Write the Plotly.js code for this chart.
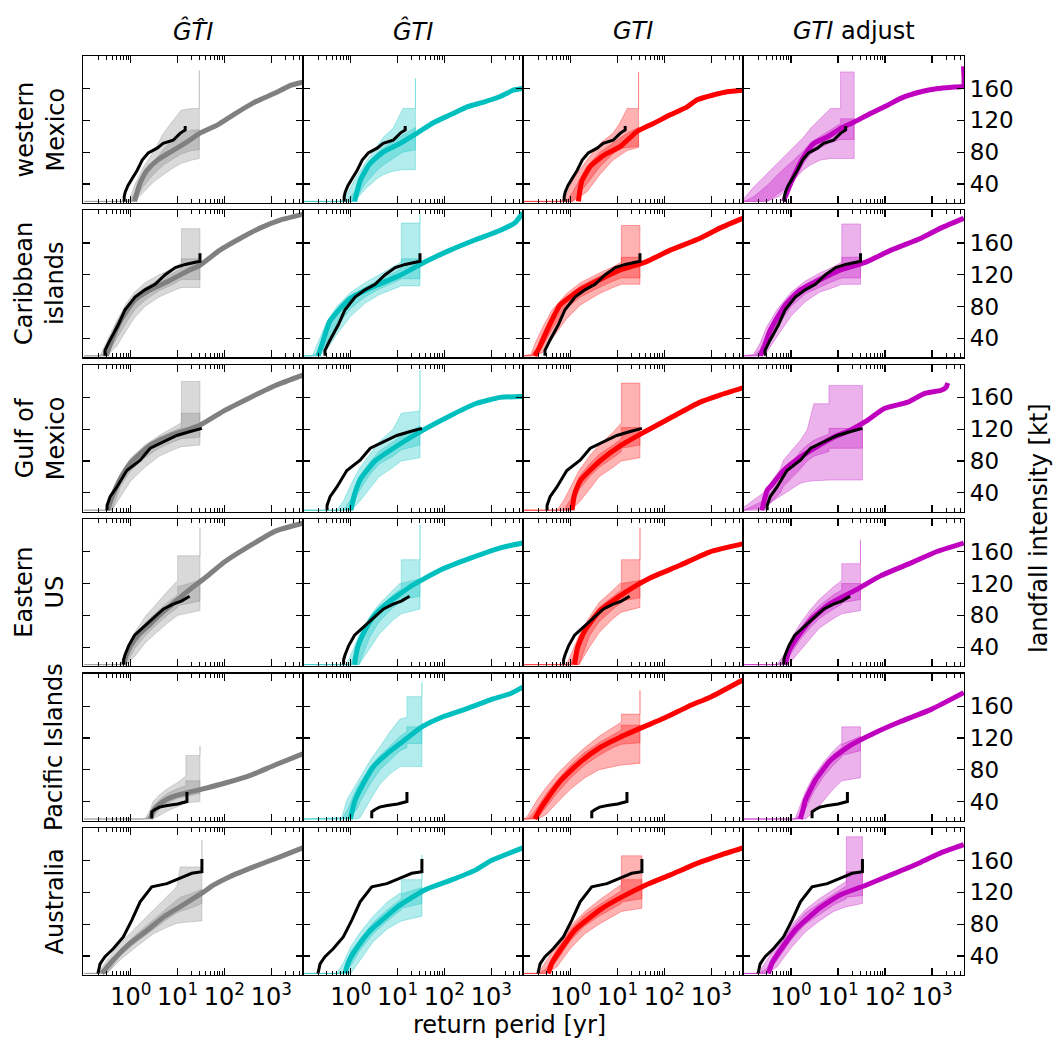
<!DOCTYPE html>
<html>
<head>
<meta charset="utf-8">
<script src="https://cdn.plot.ly/plotly-3.0.1.min.js"></script>
<style>
  html, body { margin: 0; padding: 0; background: #ffffff; }
  #chart { width: 1053px; height: 1042px; }
</style>
</head>
<body>
<div id="chart"></div>
<script>
// ---------------------------------------------------------------------------
// Return-period curves of landfall intensity, six regions x four model variants.
// For every panel: model curve (x = return period [yr], y = intensity [kt]),
// outer and inner uncertainty bands on shared knots, and the observed record.
// ---------------------------------------------------------------------------

const regionLabels = ['western<br>Mexico', 'Caribbean<br>islands', 'Gulf of<br>Mexico', 'Eastern<br>US', 'Pacific Islands', 'Australia'];
const columnTitles = ['<i>\u011CT\u0302I</i>', '<i>\u011CTI</i>', '<i>GTI</i>', '<i>GTI</i> adjust'];
const xTickVals = [1, 10, 100, 1000];
const xTickText = ['10<sup>0</sup>', '10<sup>1</sup>', '10<sup>2</sup>', '10<sup>3</sup>'];
const xMinorVals = [0.2, 0.3, 0.4, 0.5, 0.6, 0.7, 0.8, 0.9, 20, 30, 40, 50, 60, 70, 80, 90, 2000, 3000, 4000];
const yTickVals = [40, 80, 120, 160];

// ---- observed records ----
const wmx_obsX = [0.72, 0.72, 0.76, 0.87, 1.1, 1.36, 1.75, 2.35, 3.65, 4.9, 8.0, 11.4, 14.5, 14.5];
const wmx_obsY = [18, 24, 30, 38, 48, 57, 70, 79, 85, 91, 95, 104, 108, 113];
const car_obsX = [0.28, 0.28, 0.36, 0.54, 0.75, 1.23, 2.0, 3.3, 5.4, 8.9, 14.5, 30, 30];
const car_obsY = [18, 25, 38, 57, 76, 92, 101, 108, 120, 129, 133, 137, 147];
const gom_obsX = [0.31, 0.31, 0.36, 0.5, 0.82, 1.05, 1.58, 2.6, 5, 9.6, 18.6, 33];
const gom_obsY = [18, 24, 35, 47, 68, 73, 81, 96, 104, 112, 117, 121];
const eus_obsX = [0.7, 0.7, 0.75, 0.9, 1.2, 1.8, 2.5, 3.5, 5, 8, 12, 18];
const eus_obsY = [18, 24, 30, 42, 55, 65, 72, 80, 88, 94, 98, 104];
const pac_obsX = [2.8, 2.8, 3.3, 4.1, 6, 10, 15.8, 15.8];
const pac_obsY = [19, 27, 30, 33, 35, 37, 40, 52];
const aus_obsX = [0.2, 0.2, 0.22, 0.28, 0.42, 0.69, 1.05, 1.58, 2.8, 5.9, 11.3, 20, 33, 33];
const aus_obsY = [18, 19, 30, 39, 49, 64, 85, 108, 127, 131, 138, 144, 146, 162];

// ---- western Mexico ----
const wmx_hh_curveX = [1.2, 1.4, 1.6, 2.2, 3.7, 6.9, 16, 30, 70, 155, 415, 1170, 2600, 4700];
const wmx_hh_curveY = [18, 32, 42, 57, 70, 80, 93, 104, 114, 127, 142, 154, 164, 168];
const wmx_hh_bandX = [0.1, 0.9, 1.2, 1.8, 3, 5, 8, 12, 20, 29, 29];
const wmx_hh_outerLo = [18, 18, 18, 28, 42, 52, 60, 66, 70, 72, 72];
const wmx_hh_outerHi = [18, 18, 38, 60, 80, 104, 120, 133, 135, 135, 183];
const wmx_hh_innerLo = [18, 18, 18, 36, 52, 64, 72, 78, 82, 83, 83];
const wmx_hh_innerHi = [18, 18, 28, 48, 66, 84, 96, 104, 108, 108, 108];

const wmx_h_curveX = [1.2, 1.6, 2.6, 4.9, 11.3, 26, 58, 133, 305, 690, 1560, 2960, 4700];
const wmx_h_curveY = [18, 45, 66, 80, 91, 104, 117, 127, 137, 143, 150, 158, 160];
const wmx_h_bandX = [0.1, 0.6, 0.8, 1.2, 2, 3.5, 5, 8, 13, 24, 24];
const wmx_h_outerLo = [18, 18, 18, 18, 33, 46, 52, 56, 58, 58, 58];
const wmx_h_outerHi = [18, 18, 26, 45, 66, 86, 99, 110, 135, 135, 173];
const wmx_h_innerLo = [18, 18, 18, 18, 40, 56, 64, 72, 80, 83, 83];
const wmx_h_innerHi = [18, 18, 18, 30, 62, 78, 86, 94, 102, 111, 111];

const wmx_g_curveX = [1.45, 1.7, 2.6, 5.0, 11.3, 26, 58, 133, 305, 500, 1120, 2200, 4700];
const wmx_g_curveY = [18, 43, 62, 76, 87, 106, 116, 127, 137, 146, 152, 156, 158];
const wmx_g_bandX = [0.1, 0.6, 0.8, 1.1, 2.2, 4.2, 8, 11, 16, 28, 28];
const wmx_g_outerLo = [18, 18, 18, 18, 30, 52, 70, 76, 82, 86, 86];
const wmx_g_outerHi = [18, 18, 26, 45, 70, 91, 104, 116, 135, 135, 181];
const wmx_g_innerLo = [18, 18, 18, 18, 40, 62, 78, 84, 86, 87, 87];
const wmx_g_innerHi = [18, 18, 18, 30, 62, 80, 92, 98, 104, 111, 111];

const wmx_adj_curveX = [0.69, 1.13, 1.86, 3.05, 5.9, 11.4, 22, 50, 113, 220, 580, 1330, 3000, 4600, 4650];
const wmx_adj_curveY = [18, 49, 74, 91, 99, 110, 118, 129, 139, 148, 156, 160, 162, 163, 188];
const wmx_adj_bandX = [0.1, 0.16, 0.31, 0.59, 1.14, 1.86, 2.6, 4.2, 6.9, 11.3, 11.3, 22, 22];
const wmx_adj_outerLo = [18, 18, 18, 25, 45, 58, 64, 70, 72, 72, 72, 72, 72];
const wmx_adj_outerHi = [22, 36, 53, 70, 87, 99, 110, 122, 135, 135, 181, 181, 181];
const wmx_adj_innerLo = [18, 18, 18, 30, 42, 66, 78, 86, 92, 96, 96, 96, 96];
const wmx_adj_innerHi = [18, 24, 38, 55, 70, 82, 92, 100, 108, 116, 122, 122, 122];

// ---- Caribbean islands ----
const car_hh_curveX = [0.3, 0.35, 0.6, 1.2, 2.6, 6.9, 18, 30, 80, 220, 590, 1600, 4700];
const car_hh_curveY = [18, 30, 62, 88, 101, 113, 126, 132, 151, 166, 179, 189, 196];
const car_hh_bandX = [0.1, 0.22, 0.3, 0.5, 0.8, 1.2, 2, 4, 8, 12, 12, 30, 30];
const car_hh_outerLo = [18, 18, 18, 30, 50, 66, 80, 92, 100, 104, 104, 104, 104];
const car_hh_outerHi = [18, 18, 35, 62, 84, 98, 110, 120, 128, 135, 178, 178, 178];
const car_hh_innerLo = [18, 18, 18, 40, 60, 76, 88, 100, 108, 114, 114, 114, 114];
const car_hh_innerHi = [18, 18, 25, 56, 78, 94, 104, 114, 122, 128, 140, 140, 140];

const car_h_curveX = [0.2, 0.25, 0.36, 0.96, 3.3, 11, 38, 133, 460, 1570, 3300, 4700];
const car_h_curveY = [18, 35, 62, 90, 106, 119, 136, 151, 164, 176, 186, 198];
const car_h_bandX = [0.1, 0.15, 0.2, 0.3, 0.5, 1, 2, 4, 8, 12, 12, 30, 30];
const car_h_outerLo = [18, 18, 18, 25, 45, 68, 84, 95, 102, 106, 106, 106, 106];
const car_h_outerHi = [18, 18, 35, 60, 80, 98, 110, 120, 130, 136, 185, 185, 198];
const car_h_innerLo = [18, 18, 18, 35, 55, 78, 92, 102, 110, 115, 115, 115, 115];
const car_h_innerHi = [18, 18, 22, 56, 76, 94, 104, 114, 122, 128, 140, 140, 140];

const car_g_curveX = [0.17, 0.22, 0.28, 0.59, 1.58, 4.2, 11.3, 39, 133, 580, 1570, 4700];
const car_g_curveY = [18, 30, 44, 82, 101, 114, 126, 136, 151, 166, 179, 191];
const car_g_bandX = [0.1, 0.14, 0.18, 0.25, 0.4, 0.8, 1.6, 4, 8, 12, 12, 30, 30];
const car_g_outerLo = [18, 18, 18, 22, 40, 64, 82, 96, 104, 108, 108, 108, 108];
const car_g_outerHi = [18, 20, 36, 54, 76, 96, 110, 122, 130, 136, 182, 182, 182];
const car_g_innerLo = [18, 18, 18, 30, 52, 78, 92, 104, 112, 116, 116, 116, 116];
const car_g_innerHi = [18, 18, 26, 46, 70, 92, 106, 118, 126, 132, 142, 142, 142];

const car_adj_curveX = [0.22, 0.28, 0.36, 0.75, 1.58, 4.2, 11.3, 39, 133, 580, 1570, 4700];
const car_adj_curveY = [18, 32, 50, 82, 101, 114, 126, 136, 151, 166, 179, 191];
const car_adj_bandX = [0.1, 0.16, 0.22, 0.3, 0.5, 1, 2, 4, 8, 12, 12, 30, 30];
const car_adj_outerLo = [18, 18, 18, 22, 42, 68, 86, 98, 104, 108, 108, 108, 108];
const car_adj_outerHi = [18, 20, 34, 54, 76, 98, 112, 122, 130, 136, 184, 184, 184];
const car_adj_innerLo = [18, 18, 18, 32, 54, 80, 96, 104, 112, 116, 116, 116, 116];
const car_adj_innerHi = [18, 18, 26, 46, 70, 94, 108, 118, 126, 132, 142, 142, 142];

// ---- Gulf of Mexico ----
const gom_hh_curveX = [0.32, 0.4, 0.6, 1.0, 2.6, 7, 30, 104, 360, 1230, 4700];
const gom_hh_curveY = [18, 35, 58, 78, 100, 112, 125, 144, 160, 175, 188];
const gom_hh_bandX = [0.1, 0.3, 0.4, 0.6, 1, 2, 4, 8, 12, 12, 30, 30];
const gom_hh_outerLo = [18, 18, 18, 35, 55, 72, 86, 94, 98, 98, 100, 100];
const gom_hh_outerHi = [18, 18, 42, 64, 84, 100, 112, 122, 128, 180, 180, 180];
const gom_hh_innerLo = [18, 18, 18, 48, 68, 84, 96, 104, 108, 108, 110, 110];
const gom_hh_innerHi = [18, 18, 36, 62, 80, 96, 110, 118, 122, 140, 140, 140];

const gom_h_curveX = [1.0, 1.2, 1.6, 3.3, 11, 38, 133, 460, 1570, 4700];
const gom_h_curveY = [18, 38, 57, 80, 101, 120, 137, 152, 160, 161];
const gom_h_bandX = [0.1, 0.5, 0.7, 1, 1.5, 2.5, 4, 8, 12, 30, 30];
const gom_h_outerLo = [18, 18, 18, 18, 28, 45, 60, 72, 80, 84, 84];
const gom_h_outerHi = [18, 18, 30, 50, 70, 88, 104, 120, 140, 143, 194];
const gom_h_innerLo = [18, 18, 18, 18, 42, 62, 76, 86, 94, 100, 100];
const gom_h_innerHi = [18, 18, 18, 32, 60, 78, 92, 104, 112, 124, 124];

const gom_g_curveX = [1.06, 1.2, 1.58, 4.2, 11.3, 39, 133, 580, 1570, 4700];
const gom_g_curveY = [18, 38, 55, 80, 99, 117, 134, 154, 163, 172];
const gom_g_bandX = [0.1, 0.5, 0.7, 1, 1.5, 2.5, 4, 8, 12, 12, 30, 30];
const gom_g_outerLo = [18, 18, 18, 18, 28, 44, 60, 72, 80, 80, 84, 84];
const gom_g_outerHi = [18, 18, 30, 48, 68, 86, 100, 116, 128, 178, 178, 178];
const gom_g_innerLo = [18, 18, 18, 18, 44, 60, 72, 84, 92, 96, 100, 100];
const gom_g_innerHi = [18, 18, 18, 32, 60, 76, 88, 100, 108, 122, 122, 122];

const gom_adj_curveX = [0.24, 0.31, 0.42, 0.69, 1.58, 3.6, 8.2, 18.6, 42, 96, 305, 700, 1570, 2000, 2150];
const gom_adj_curveY = [18, 43, 52, 68, 85, 98, 110, 119, 131, 146, 154, 165, 169, 173, 178];
const gom_adj_bandX = [0.1, 0.26, 0.59, 0.69, 1.58, 2.2, 3.05, 6.4, 6.4, 33, 33];
const gom_adj_outerLo = [18, 22, 35, 38, 52, 54, 55, 56, 56, 56, 56];
const gom_adj_outerHi = [22, 40, 70, 81, 106, 119, 152, 152, 175, 175, 175];
const gom_adj_innerLo = [18, 18, 40, 48, 70, 80, 86, 92, 96, 96, 96];
const gom_adj_innerHi = [18, 30, 56, 66, 92, 100, 106, 114, 121, 121, 121];

// ---- Eastern US ----
const eus_hh_curveX = [0.7, 0.8, 1.0, 1.5, 2.5, 4, 7, 14.5, 40, 105, 360, 1230, 4700];
const eus_hh_curveY = [18, 30, 42, 56, 68, 80, 92, 108, 128, 148, 168, 186, 196];
const eus_hh_bandX = [0.1, 0.6, 0.8, 1.2, 2, 3.5, 6, 10, 10, 30, 30];
const eus_hh_outerLo = [18, 18, 18, 28, 45, 58, 70, 80, 80, 86, 86];
const eus_hh_outerHi = [18, 18, 35, 58, 78, 95, 110, 124, 155, 155, 190];
const eus_hh_innerLo = [18, 18, 18, 38, 54, 68, 80, 90, 92, 98, 98];
const eus_hh_innerHi = [18, 18, 25, 54, 70, 84, 96, 106, 116, 124, 124];

const eus_h_curveX = [1.2, 1.4, 2.0, 3.0, 5.4, 18.6, 82, 360, 1570, 4700];
const eus_h_curveY = [18, 40, 61, 78, 93, 116, 137, 152, 165, 171];
const eus_h_bandX = [0.1, 0.8, 1.0, 1.5, 2.5, 4, 8, 12, 12, 30, 30];
const eus_h_outerLo = [18, 18, 18, 18, 38, 56, 74, 82, 82, 88, 88];
const eus_h_outerHi = [18, 18, 30, 55, 78, 94, 112, 122, 150, 150, 194];
const eus_h_innerLo = [18, 18, 18, 18, 52, 72, 90, 98, 100, 104, 104];
const eus_h_innerHi = [18, 18, 18, 52, 74, 90, 106, 114, 120, 126, 126];

const eus_g_curveX = [1.2, 1.4, 2.0, 4.2, 14.5, 49, 215, 940, 4700];
const eus_g_curveY = [18, 40, 61, 86, 109, 127, 143, 160, 170];
const eus_g_bandX = [0.1, 0.8, 1.0, 1.5, 2.5, 4, 8, 12, 12, 30, 30];
const eus_g_outerLo = [18, 18, 18, 18, 40, 58, 76, 84, 84, 90, 90];
const eus_g_outerHi = [18, 18, 30, 55, 78, 96, 112, 122, 150, 150, 190];
const eus_g_innerLo = [18, 18, 18, 18, 54, 72, 88, 96, 98, 102, 102];
const eus_g_innerHi = [18, 18, 18, 52, 74, 90, 104, 112, 120, 124, 124];

const eus_adj_curveX = [0.75, 0.9, 1.24, 2.6, 6.9, 24, 82, 360, 1230, 4700];
const eus_adj_curveY = [18, 35, 49, 74, 95, 112, 130, 146, 160, 171];
const eus_adj_bandX = [0.1, 0.5, 0.7, 1.0, 1.5, 2.5, 4, 8, 12, 12, 30, 30];
const eus_adj_outerLo = [18, 18, 18, 22, 34, 50, 64, 76, 82, 82, 86, 86];
const eus_adj_outerHi = [18, 18, 30, 50, 68, 86, 100, 116, 124, 145, 145, 175];
const eus_adj_innerLo = [18, 18, 18, 32, 48, 64, 76, 88, 94, 96, 100, 100];
const eus_adj_innerHi = [18, 18, 22, 46, 62, 80, 92, 106, 112, 120, 120, 120];

// ---- Pacific Islands ----
const pac_hh_curveX = [2.6, 3, 4, 5.5, 10, 30, 100, 360, 1200, 4700];
const pac_hh_curveY = [18, 28, 36, 42, 48, 55, 63, 73, 86, 100];
const pac_hh_bandX = [0.1, 2, 2.5, 3, 4, 6, 10, 15, 15, 30, 30];
const pac_hh_outerLo = [18, 18, 18, 18, 22, 28, 34, 38, 38, 40, 40];
const pac_hh_outerHi = [18, 18, 28, 40, 48, 56, 64, 72, 98, 98, 110];
const pac_hh_innerLo = [18, 18, 18, 20, 30, 38, 44, 46, 46, 50, 50];
const pac_hh_innerHi = [18, 18, 22, 34, 42, 50, 56, 60, 66, 66, 66];

const pac_h_curveX = [0.97, 1.24, 1.86, 3.05, 5.9, 11.3, 33, 96, 305, 960, 2600, 4700];
const pac_h_curveY = [18, 42, 63, 84, 100, 113, 134, 147, 157, 168, 176, 184];
const pac_h_bandX = [0.1, 0.64, 0.82, 1.35, 1.58, 2.6, 4.2, 6.9, 11.3, 15.8, 15.8, 33, 33];
const pac_h_outerLo = [18, 18, 18, 18, 20, 42, 62, 75, 84, 84, 84, 84, 84];
const pac_h_outerHi = [18, 20, 42, 63, 70, 92, 109, 128, 144, 146, 172, 172, 190];
const pac_h_innerLo = [18, 18, 18, 30, 40, 62, 80, 92, 104, 108, 113, 113, 113];
const pac_h_innerHi = [18, 18, 28, 58, 64, 84, 98, 110, 122, 128, 134, 134, 134];

const pac_g_curveX = [0.17, 0.22, 0.3, 0.6, 1.6, 4.2, 11.3, 33, 100, 330, 1000, 4700];
const pac_g_curveY = [18, 30, 42, 66, 90, 108, 121, 133, 145, 160, 172, 193];
const pac_g_bandX = [0.1, 0.12, 0.15, 0.2, 0.3, 0.5, 1, 2, 4, 8, 12, 12, 30, 30];
const pac_g_outerLo = [18, 18, 18, 18, 24, 38, 56, 70, 80, 84, 86, 86, 88, 88];
const pac_g_outerHi = [18, 22, 32, 44, 58, 74, 92, 108, 122, 134, 140, 150, 150, 180];
const pac_g_innerLo = [18, 18, 18, 20, 34, 50, 70, 86, 98, 108, 112, 112, 114, 114];
const pac_g_innerHi = [18, 18, 24, 34, 50, 66, 86, 102, 114, 124, 130, 136, 136, 136];

const pac_adj_curveX = [1.58, 1.8, 2.0, 3.3, 6.9, 18.6, 63, 220, 960, 4700];
const pac_adj_curveY = [18, 30, 41, 67, 92, 111, 127, 141, 156, 177];
const pac_adj_bandX = [0.1, 1.2, 1.5, 2, 3, 5, 8, 12, 12, 30, 30];
const pac_adj_outerLo = [18, 18, 18, 18, 26, 42, 56, 66, 66, 70, 70];
const pac_adj_outerHi = [18, 18, 32, 52, 72, 90, 104, 114, 134, 134, 134];
const pac_adj_innerLo = [18, 18, 18, 30, 52, 72, 86, 96, 98, 104, 104];
const pac_adj_innerHi = [18, 18, 22, 46, 68, 86, 100, 108, 112, 122, 122];

// ---- Australia ----
const aus_hh_curveX = [0.24, 0.42, 0.97, 2.2, 5, 11.4, 33, 58, 133, 420, 1580, 4700];
const aus_hh_curveY = [18, 35, 56, 72, 89, 102, 119, 129, 140, 152, 165, 176];
const aus_hh_bandX = [0.1, 0.2, 0.31, 0.59, 1.34, 3.05, 5.9, 9.6, 11.3, 18.6, 33, 33];
const aus_hh_outerLo = [18, 18, 18, 35, 52, 68, 76, 81, 82, 83, 84, 84];
const aus_hh_outerHi = [18, 18, 35, 56, 77, 98, 114, 127, 152, 152, 152, 186];
const aus_hh_innerLo = [18, 18, 18, 40, 58, 74, 86, 94, 96, 100, 106, 106];
const aus_hh_innerHi = [18, 18, 28, 48, 68, 86, 100, 110, 114, 118, 124, 124];

const aus_h_curveX = [0.75, 0.9, 1.24, 2.6, 11.3, 38, 133, 460, 1000, 4700];
const aus_h_curveY = [18, 33, 47, 72, 104, 123, 135, 148, 160, 176];
const aus_h_bandX = [0.1, 0.5, 0.7, 1.0, 1.6, 3, 6, 12, 12, 33, 33];
const aus_h_outerLo = [18, 18, 18, 18, 35, 58, 74, 84, 84, 90, 90];
const aus_h_outerHi = [18, 18, 32, 52, 70, 90, 108, 120, 136, 136, 167];
const aus_h_innerLo = [18, 18, 18, 28, 48, 68, 84, 98, 100, 106, 106];
const aus_h_innerHi = [18, 18, 20, 46, 62, 82, 98, 112, 118, 126, 126];

const aus_g_curveX = [0.33, 0.4, 0.59, 1.24, 4.2, 11.3, 39, 133, 580, 1570, 4700];
const aus_g_curveY = [18, 32, 47, 73, 98, 113, 129, 142, 158, 167, 176];
const aus_g_bandX = [0.1, 0.2, 0.3, 0.5, 1, 2, 4, 8, 12, 12, 33, 33];
const aus_g_outerLo = [18, 18, 18, 26, 50, 68, 80, 90, 96, 96, 100, 100];
const aus_g_outerHi = [18, 18, 34, 54, 78, 96, 110, 122, 130, 166, 166, 166];
const aus_g_innerLo = [18, 18, 18, 34, 60, 78, 90, 100, 106, 108, 112, 112];
const aus_g_innerHi = [18, 18, 24, 48, 74, 92, 104, 116, 122, 136, 136, 136];

const aus_adj_curveX = [0.33, 0.4, 0.59, 1.24, 4.2, 11.3, 39, 133, 580, 1570, 4700];
const aus_adj_curveY = [18, 32, 47, 73, 101, 117, 129, 142, 158, 170, 180];
const aus_adj_bandX = [0.1, 0.2, 0.3, 0.5, 1, 2, 4, 8, 15, 15, 33, 33];
const aus_adj_outerLo = [18, 18, 18, 26, 50, 70, 84, 96, 102, 102, 106, 106];
const aus_adj_outerHi = [18, 18, 34, 54, 78, 98, 112, 124, 134, 190, 190, 190];
const aus_adj_innerLo = [18, 18, 18, 34, 60, 80, 92, 104, 112, 114, 116, 116];
const aus_adj_innerHi = [18, 18, 24, 48, 74, 94, 106, 118, 128, 146, 146, 146];

// ---------------------------------------------------------------------------
// Panel table (rows = regions, columns = model variants)
// ---------------------------------------------------------------------------
function panel(cx, cy, bx, olo, ohi, ilo, ihi) {
  return { cx, cy, bx, olo, ohi, ilo, ihi };
}
const observed = [
  [wmx_obsX, wmx_obsY], [car_obsX, car_obsY], [gom_obsX, gom_obsY],
  [eus_obsX, eus_obsY], [pac_obsX, pac_obsY], [aus_obsX, aus_obsY]
];
const grid = [
  [panel(wmx_hh_curveX, wmx_hh_curveY, wmx_hh_bandX, wmx_hh_outerLo, wmx_hh_outerHi, wmx_hh_innerLo, wmx_hh_innerHi),
   panel(wmx_h_curveX, wmx_h_curveY, wmx_h_bandX, wmx_h_outerLo, wmx_h_outerHi, wmx_h_innerLo, wmx_h_innerHi),
   panel(wmx_g_curveX, wmx_g_curveY, wmx_g_bandX, wmx_g_outerLo, wmx_g_outerHi, wmx_g_innerLo, wmx_g_innerHi),
   panel(wmx_adj_curveX, wmx_adj_curveY, wmx_adj_bandX, wmx_adj_outerLo, wmx_adj_outerHi, wmx_adj_innerLo, wmx_adj_innerHi)],
  [panel(car_hh_curveX, car_hh_curveY, car_hh_bandX, car_hh_outerLo, car_hh_outerHi, car_hh_innerLo, car_hh_innerHi),
   panel(car_h_curveX, car_h_curveY, car_h_bandX, car_h_outerLo, car_h_outerHi, car_h_innerLo, car_h_innerHi),
   panel(car_g_curveX, car_g_curveY, car_g_bandX, car_g_outerLo, car_g_outerHi, car_g_innerLo, car_g_innerHi),
   panel(car_adj_curveX, car_adj_curveY, car_adj_bandX, car_adj_outerLo, car_adj_outerHi, car_adj_innerLo, car_adj_innerHi)],
  [panel(gom_hh_curveX, gom_hh_curveY, gom_hh_bandX, gom_hh_outerLo, gom_hh_outerHi, gom_hh_innerLo, gom_hh_innerHi),
   panel(gom_h_curveX, gom_h_curveY, gom_h_bandX, gom_h_outerLo, gom_h_outerHi, gom_h_innerLo, gom_h_innerHi),
   panel(gom_g_curveX, gom_g_curveY, gom_g_bandX, gom_g_outerLo, gom_g_outerHi, gom_g_innerLo, gom_g_innerHi),
   panel(gom_adj_curveX, gom_adj_curveY, gom_adj_bandX, gom_adj_outerLo, gom_adj_outerHi, gom_adj_innerLo, gom_adj_innerHi)],
  [panel(eus_hh_curveX, eus_hh_curveY, eus_hh_bandX, eus_hh_outerLo, eus_hh_outerHi, eus_hh_innerLo, eus_hh_innerHi),
   panel(eus_h_curveX, eus_h_curveY, eus_h_bandX, eus_h_outerLo, eus_h_outerHi, eus_h_innerLo, eus_h_innerHi),
   panel(eus_g_curveX, eus_g_curveY, eus_g_bandX, eus_g_outerLo, eus_g_outerHi, eus_g_innerLo, eus_g_innerHi),
   panel(eus_adj_curveX, eus_adj_curveY, eus_adj_bandX, eus_adj_outerLo, eus_adj_outerHi, eus_adj_innerLo, eus_adj_innerHi)],
  [panel(pac_hh_curveX, pac_hh_curveY, pac_hh_bandX, pac_hh_outerLo, pac_hh_outerHi, pac_hh_innerLo, pac_hh_innerHi),
   panel(pac_h_curveX, pac_h_curveY, pac_h_bandX, pac_h_outerLo, pac_h_outerHi, pac_h_innerLo, pac_h_innerHi),
   panel(pac_g_curveX, pac_g_curveY, pac_g_bandX, pac_g_outerLo, pac_g_outerHi, pac_g_innerLo, pac_g_innerHi),
   panel(pac_adj_curveX, pac_adj_curveY, pac_adj_bandX, pac_adj_outerLo, pac_adj_outerHi, pac_adj_innerLo, pac_adj_innerHi)],
  [panel(aus_hh_curveX, aus_hh_curveY, aus_hh_bandX, aus_hh_outerLo, aus_hh_outerHi, aus_hh_innerLo, aus_hh_innerHi),
   panel(aus_h_curveX, aus_h_curveY, aus_h_bandX, aus_h_outerLo, aus_h_outerHi, aus_h_innerLo, aus_h_innerHi),
   panel(aus_g_curveX, aus_g_curveY, aus_g_bandX, aus_g_outerLo, aus_g_outerHi, aus_g_innerLo, aus_g_innerHi),
   panel(aus_adj_curveX, aus_adj_curveY, aus_adj_bandX, aus_adj_outerLo, aus_adj_outerHi, aus_adj_innerLo, aus_adj_innerHi)]
];

const lineColors = ['#808080', '#00bfbf', '#ff0000', '#bf00bf'];
const bandColors = ['rgba(128,128,128,0.3)', 'rgba(0,191,191,0.3)', 'rgba(255,0,0,0.3)', 'rgba(191,0,191,0.3)'];

// ---------------------------------------------------------------------------
// Geometry (pixels) of the panel grid
// ---------------------------------------------------------------------------
const W = 1053, H = 1042;
const L = 83, R = 964, T = 56, B = 975;
const colEdges = [83, 303, 523, 743, 964];
const rowTops = [56, 210.4, 364.8, 519.2, 673.6, 828];
const rowH = 147;
const FONT = 'DejaVu Sans';
const px2x = p => (p - L) / (R - L);
const py2y = p => 1 - (p - T) / (B - T);

const traces = [];
const layout = {
  width: W, height: H,
  margin: { l: L, r: W - R, t: T, b: H - B, pad: 0 },
  paper_bgcolor: '#ffffff', plot_bgcolor: 'rgba(0,0,0,0)',
  showlegend: false,
  font: { family: FONT, color: '#000000', size: 23 },
  annotations: []
};

function polygon(bx, lo, hi) {
  return {
    x: bx.concat(bx.slice().reverse()),
    y: hi.concat(lo.slice().reverse())
  };
}

for (let r = 0; r < 6; r++) {
  for (let c = 0; c < 4; c++) {
    const k = r * 4 + c + 1;
    const xa = 'x' + (k === 1 ? '' : k);
    const ya = 'y' + (k === 1 ? '' : k);
    const p = grid[r][c];

    const outer = polygon(p.bx, p.olo, p.ohi);
    const inner = polygon(p.bx, p.ilo, p.ihi);
    [outer, inner].forEach(poly => {
      traces.push({
        type: 'scatter', mode: 'lines', x: poly.x, y: poly.y,
        xaxis: xa, yaxis: ya, fill: 'toself', fillcolor: bandColors[c],
        line: { color: bandColors[c], width: 1 }, hoverinfo: 'skip'
      });
    });
    traces.push({
      type: 'scatter', mode: 'lines', x: p.cx, y: p.cy, xaxis: xa, yaxis: ya,
      line: { color: lineColors[c], width: 5, shape: 'spline', smoothing: 0.5 }, hoverinfo: 'skip'
    });
    traces.push({
      type: 'scatter', mode: 'lines', x: observed[r][0], y: observed[r][1], xaxis: xa, yaxis: ya,
      line: { color: '#000000', width: 3 }, hoverinfo: 'skip'
    });

    const xKey = 'xaxis' + (k === 1 ? '' : k);
    const yKey = 'yaxis' + (k === 1 ? '' : k);
    const xAxis = {
      type: 'log',
      range: [Math.log10(0.095), Math.log10(4770)],
      domain: [px2x(colEdges[c]), px2x(colEdges[c + 1])],
      anchor: ya,
      showline: true, linecolor: '#000000', linewidth: 1.2, mirror: 'ticks',
      ticks: 'inside', ticklen: 7, tickwidth: 1.2, tickcolor: '#000000',
      tickmode: 'array', tickvals: xTickVals,
      showticklabels: r === 5,
      minor: { tickmode: 'array', tickvals: xMinorVals, ticks: 'inside', ticklen: 4, tickwidth: 1, tickcolor: '#000000', showgrid: false },
      showgrid: false, zeroline: false, fixedrange: true
    };
    if (r === 5) {
      xAxis.ticktext = xTickText;
      xAxis.tickfont = { family: FONT, size: 24, color: '#000000' };
    }
    layout[xKey] = xAxis;

    const yAxis = {
      range: [16, 201],
      domain: [py2y(rowTops[r] + rowH), py2y(rowTops[r])],
      anchor: xa,
      side: c === 3 ? 'right' : 'left',
      showline: true, linecolor: '#000000', linewidth: 1.2, mirror: 'ticks',
      ticks: 'inside', ticklen: 7, tickwidth: 1.2, tickcolor: '#000000',
      tickmode: 'array', tickvals: yTickVals,
      showticklabels: c === 3,
      showgrid: false, zeroline: false, fixedrange: true
    };
    if (c === 3) {
      yAxis.tickfont = { family: FONT, size: 23, color: '#000000' };
    }
    layout[yKey] = yAxis;
  }
}

// column titles
columnTitles.forEach((t, c) => {
  layout.annotations.push({
    xref: 'paper', yref: 'paper',
    x: px2x((colEdges[c] + colEdges[c + 1]) / 2), y: py2y(31),
    text: t, showarrow: false, xanchor: 'center', yanchor: 'middle',
    font: { family: FONT, size: 24, color: '#000000' }
  });
});

// row labels
regionLabels.forEach((t, r) => {
  const twoLines = t.indexOf('<br>') >= 0;
  layout.annotations.push({
    xref: 'paper', yref: 'paper',
    x: px2x(twoLines ? 40 : 54), y: py2y(rowTops[r] + rowH / 2),
    text: t, showarrow: false, textangle: -90, xanchor: 'center', yanchor: 'middle',
    font: { family: FONT, size: 24, color: '#000000' }
  });
});

// shared axis titles
layout.annotations.push({
  xref: 'paper', yref: 'paper', x: px2x(509), y: py2y(1025),
  text: 'return perid [yr]', showarrow: false, xanchor: 'center', yanchor: 'middle',
  font: { family: FONT, size: 24, color: '#000000' }
});
layout.annotations.push({
  xref: 'paper', yref: 'paper', x: px2x(1039), y: py2y(528),
  text: 'landfall intensity [kt]', showarrow: false, textangle: -90, xanchor: 'center', yanchor: 'middle',
  font: { family: FONT, size: 24, color: '#000000' }
});

Plotly.newPlot('chart', traces, layout, { displayModeBar: false, staticPlot: true });
</script>
</body>
</html>
